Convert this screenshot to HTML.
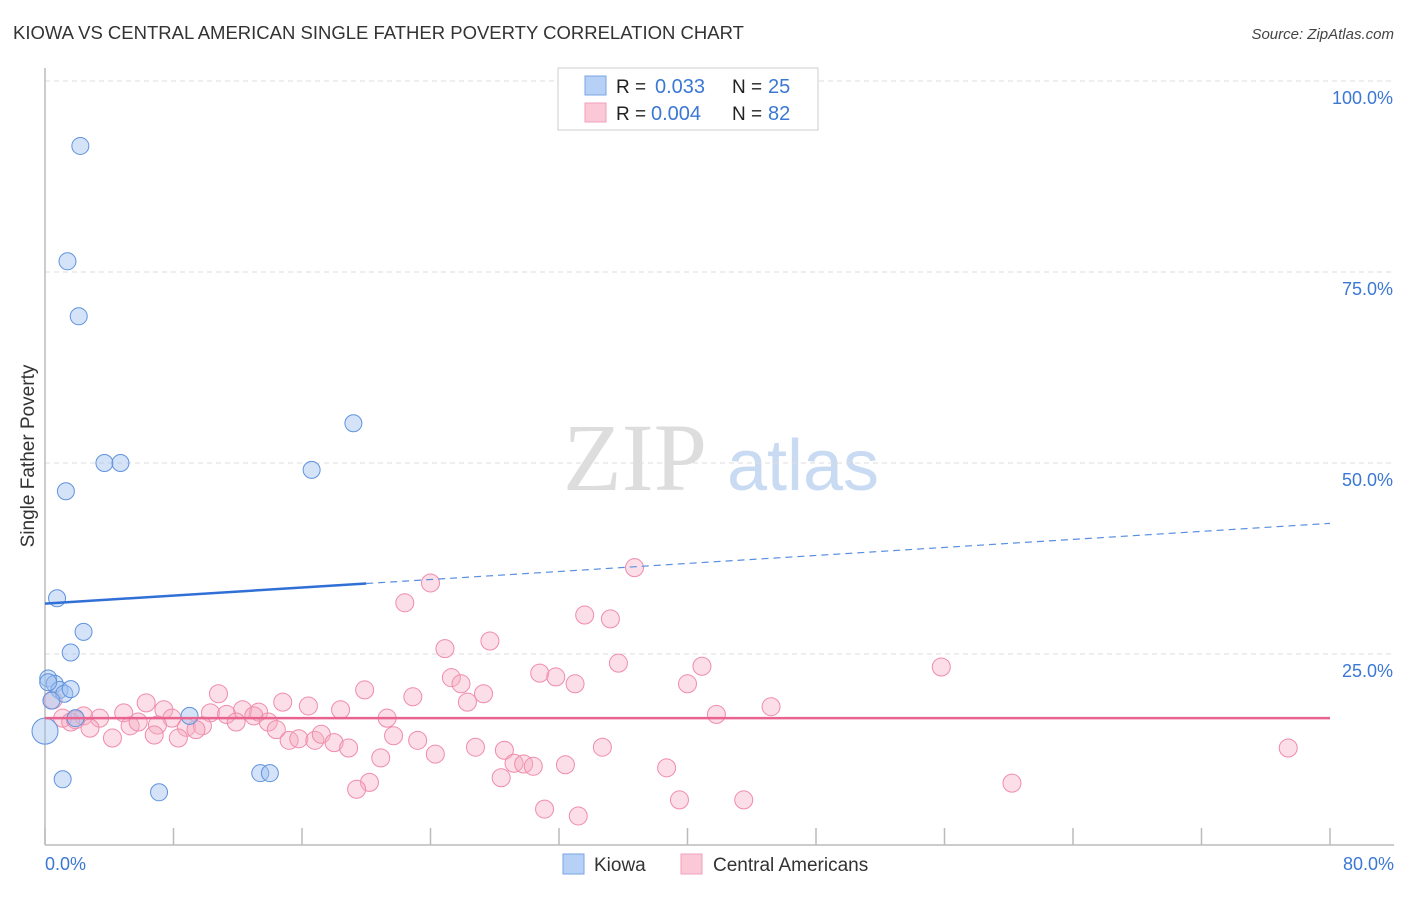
<!DOCTYPE html>
<html><head><meta charset="utf-8"><style>
html,body{margin:0;padding:0;background:#fff;}
body{width:1406px;height:892px;overflow:hidden;font-family:"Liberation Sans",sans-serif;}
</style></head><body>
<svg id="chart" width="1406" height="892" xmlns="http://www.w3.org/2000/svg" font-family="Liberation Sans, sans-serif">
<text x="13" y="39" font-size="18.5" fill="#333">KIOWA VS CENTRAL AMERICAN SINGLE FATHER POVERTY CORRELATION CHART</text>
<text x="1394" y="39" font-size="15" fill="#444" text-anchor="end" font-style="italic">Source: ZipAtlas.com</text>
<g>
<text x="635" y="490" font-size="96" fill="#ddd" font-family="Liberation Serif, serif" text-anchor="middle">ZIP</text>
<text x="803" y="490" font-size="72" fill="#c9daf3" text-anchor="middle">atlas</text>
</g>
<g id="grid"></g>
<g id="yticks"></g>
<g id="xaxis"></g>
<line x1="45" y1="68" x2="45" y2="845" stroke="#bbb" stroke-width="1.5"/>
<text transform="translate(34,456) rotate(-90)" font-size="19" fill="#333" text-anchor="middle">Single Father Poverty</text>
<g id="pink"></g>
<g id="blue"></g>
<g id="trends"></g>
<g>
<rect x="558" y="68" width="260" height="62" fill="#fff" stroke="#ccc"/>
<rect x="585" y="76" width="21" height="19" fill="#b7d0f5" stroke="#7aa6e6"/>
<rect x="585" y="103" width="21" height="19" fill="#fbc8d7" stroke="#f0a0b8"/>
<text x="616" y="93" font-size="19" fill="#222">R = </text><text x="655" y="93" font-size="20" fill="#3b78d4">0.033</text>
<text x="732" y="93" font-size="19" fill="#222">N = </text><text x="768" y="93" font-size="20" fill="#3b78d4">25</text>
<text x="616" y="120" font-size="19" fill="#222">R = </text><text x="651" y="120" font-size="20" fill="#3b78d4">0.004</text>
<text x="732" y="120" font-size="19" fill="#222">N = </text><text x="768" y="120" font-size="20" fill="#3b78d4">82</text>
</g>
<g>
<rect x="563" y="854" width="21" height="20" fill="#b7d0f5" stroke="#7aa6e6"/>
<text x="594" y="871" font-size="19" fill="#333">Kiowa</text>
<rect x="681" y="854" width="21" height="20" fill="#fbc8d7" stroke="#f0a0b8"/>
<text x="713" y="871" font-size="19" fill="#333">Central Americans</text>
</g>
</svg>
<script>
const yTickValues=[25,50,75,100];
const yTickLabels=["25.0%","50.0%","75.0%","100.0%"];
const xTickValues=[0,8,16,24,32,40,48,56,64,72,80];
const xEndLabels=["0.0%","80.0%"];
const kiowaX=[2.2,1.4,2.1,19.2,3.7,4.7,16.6,1.3,0.75,2.4,1.6,0.2,0.6,0.9,1.2,1.6,9.0,1.9,0,1.1,7.1,13.4,14.0,0.4,0.2];
const kiowaY=[91.5,76.4,69.2,55.2,50.0,50.0,49.1,46.3,32.3,27.9,25.2,21.8,21.1,20.3,19.8,20.4,16.9,16.6,14.9,8.6,6.9,9.4,9.4,18.9,21.3];
const centralX=[36.7,24.0,22.4,33.6,35.2,27.7,24.9,35.7,40.9,55.8,30.8,31.8,25.3,25.9,33.0,40.0,19.9,10.8,27.3,22.9,26.3,6.3,16.4,14.8,45.2,18.4,7.4,4.9,10.3,12.3,13.3,11.3,41.8,21.3,13.0,7.9,11.9,13.9,2.4,3.4,1.1,1.6,2.8,5.3,7.0,8.8,9.8,9.4,14.4,5.8,4.2,6.8,8.3,15.2,15.8,16.8,17.2,18.0,18.9,21.7,23.2,24.3,26.8,28.6,20.9,29.2,29.8,30.4,32.4,34.7,38.7,28.4,20.2,19.4,77.4,60.2,31.1,33.2,39.5,43.5,0.5,1.9];
const centralY=[36.3,34.3,31.7,30.1,29.6,26.7,25.7,23.8,23.4,23.3,22.5,22.0,21.9,21.1,21.1,21.1,20.3,19.8,19.8,19.4,18.7,18.6,18.2,18.7,18.1,17.7,17.7,17.3,17.3,17.7,17.4,17.1,17.1,16.6,16.9,16.6,16.1,16.1,16.9,16.6,16.6,16.1,15.3,15.6,15.7,15.4,15.6,15.1,15.1,16.1,14.0,14.4,14.0,13.7,13.9,13.7,14.5,13.4,12.7,14.3,13.7,11.9,12.8,12.4,11.4,10.7,10.6,10.3,10.5,12.8,10.1,8.8,8.2,7.3,12.7,8.1,4.7,3.8,5.9,5.9,19.0,16.4];
const kiowaTrend=[31.6,42.1];
const kiowaSolidEnd=20;
const centralTrend=[16.6,16.6];
const NS="http://www.w3.org/2000/svg";
function xs(v){return 45+v*(1285/80);}
function ys(v){return 845-v*7.64;}
function mk(tag,attrs,parent){const e=document.createElementNS(NS,tag);for(const k in attrs)e.setAttribute(k,attrs[k]);parent.appendChild(e);return e;}
const grid=document.getElementById('grid'),yt=document.getElementById('yticks'),xa=document.getElementById('xaxis');
yTickValues.forEach((v,i)=>{
  const l=mk('line',{x1:45,x2:1394,y1:ys(v),y2:ys(v),stroke:'#ddd','stroke-dasharray':'5,4'},grid);
  
  
  const t=mk('text',{x:1393,y:ys(v)+23,'font-size':18,fill:'#3b78d4','text-anchor':'end'},yt);
  
  
  t.textContent=yTickLabels[i];
});
mk('line',{x1:45,x2:1394,y1:845,y2:845,stroke:'#bbb','stroke-width':1.5},xa);
xTickValues.forEach(v=>{
  const l=mk('line',{x1:xs(v),x2:xs(v),y1:828,y2:845,stroke:'#bbb','stroke-width':1.5},xa);
  
  
});
[[0,'start',45],[80,'end',1394]].forEach((a,i)=>{
  const t=mk('text',{x:a[2],y:870,'font-size':18,fill:'#3b78d4','text-anchor':a[1]},xa);
  
  
  t.textContent=xEndLabels[i];
});
const pg=document.getElementById('pink');
centralX.forEach((x,i)=>{
  const c=mk('circle',{cx:xs(x),cy:ys(centralY[i]),r:9,fill:'rgba(246,172,196,0.4)',stroke:'#f08cab','stroke-width':1},pg);
  
  
});
const bg=document.getElementById('blue');
kiowaX.forEach((x,i)=>{
  const c=mk('circle',{cx:xs(x),cy:ys(kiowaY[i]),r:(x===0?13:8.5),fill:'rgba(160,192,240,0.45)',stroke:'#5f93de','stroke-width':1},bg);
  
  
});
const tg=document.getElementById('trends');
function kt(x){return kiowaTrend[0]+(kiowaTrend[1]-kiowaTrend[0])*x/80;}
const b1=mk('line',{x1:xs(0),y1:ys(kt(0)),x2:xs(kiowaSolidEnd),y2:ys(kt(kiowaSolidEnd)),stroke:'#2f6fd6','stroke-width':2.5},tg);


const b2=mk('line',{x1:xs(kiowaSolidEnd),y1:ys(kt(kiowaSolidEnd)),x2:xs(80),y2:ys(kt(80)),stroke:'#5a8ee0','stroke-width':1.2,'stroke-dasharray':'7,5'},tg);


const p1=mk('line',{x1:xs(0),y1:ys(centralTrend[0]),x2:xs(80),y2:ys(centralTrend[1]),stroke:'#e8638f','stroke-width':2.5},tg);


</script>
</body></html>
